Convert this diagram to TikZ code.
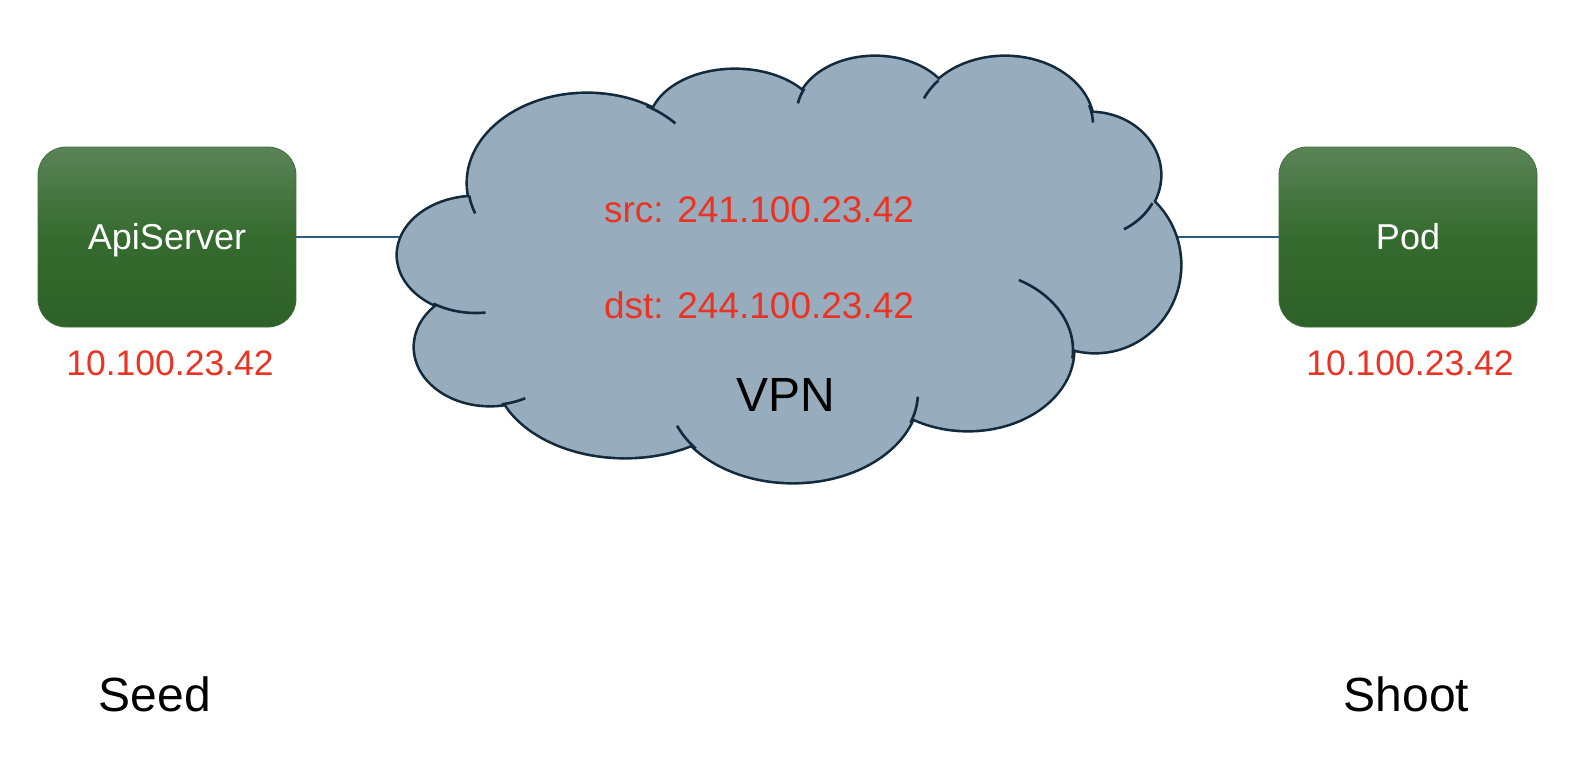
\documentclass[tikz,border=0pt]{standalone}
\usepackage{fontspec}
\setmainfont{Liberation Sans}
\definecolor{cloudfill}{HTML}{97ADBD}
\definecolor{cloudedge}{HTML}{132A3C}
\definecolor{linkblue}{HTML}{2B5C83}
\definecolor{ipred}{HTML}{EA3323}
\definecolor{boxtop}{HTML}{5A8357}
\definecolor{boxmid}{HTML}{366B2F}
\definecolor{boxbot}{HTML}{2E6127}
\definecolor{boxedge}{HTML}{3E6E39}
\newcommand\fsz[1]{\fontsize{#1}{#1}\selectfont}
\tikzset{
  box/.style={draw=boxedge, line width=0.8pt, rounded corners=28pt,
    minimum width=258pt, minimum height=180pt,
    top color=boxtop, bottom color=boxbot, middle color=boxmid,
    text=white, font=\fsz{36}, text height=24pt, text depth=0pt, inner sep=0pt},
  ip/.style={text=ipred, font=\fsz{35.5}, anchor=base, inner sep=0pt},
  pkt/.style={text=ipred, font=\fsz{37}, anchor=base, inner sep=0pt},
  big/.style={font=\fsz{48}, anchor=base, inner sep=0pt},
  link/.style={draw=linkblue, line width=2.6pt},
  cloudline/.style={draw=cloudedge, line width=2.6pt},
  cloudouter/.style={draw=cloudedge, line width=5.2pt},
}
\newcommand\cloudtick[6]{\draw[cloudline] plot[domain=#5:#6, samples=24, variable=\t] ({#1+#3*cos(\t)},{#2+#4*sin(\t)});}
\begin{document}
\begin{tikzpicture}[x=1pt, y=-1pt]
\useasboundingbox (0,0) rectangle (1580,766);
\fill[white] (0,0) rectangle (1580,766);
% boxes
\node[box] (api) at (167,237) {ApiServer};
\node[box] (pod) at (1408,237) {Pod};
\coordinate (cloudW) at (399,237);
\coordinate (cloudE) at (1178,237);
\draw[link] (api.east) -- (cloudW);
\draw[link] (cloudE) -- (pod.west);
% cloud
\def\lobelist{476/255/78/58, 587/183/119/89, 735/125/85/55, 875/112/78/55,
  1005/125/88/68, 1090/175/70/62, 1095/265/85/87, 968/350/105/80,
  793/392/125/90, 625/369/130/88, 490/347/75/58}
\draw[cloudouter] \foreach \cx/\cy/\rx/\ry in \lobelist {(\cx,\cy) ellipse [x radius=\rx pt, y radius=\ry pt]};
\fill[cloudfill] \foreach \cx/\cy/\rx/\ry in \lobelist {(\cx,\cy) ellipse [x radius=\rx pt, y radius=\ry pt]};
\fill[cloudfill] (476,255) -- (587,183) -- (735,125) -- (875,112) -- (1005,125) -- (1090,175)
  -- (1095,265) -- (968,350) -- (793,392) -- (625,369) -- (490,347) -- cycle;
\cloudtick{587}{183}{119}{89}{172}{160}
\cloudtick{587}{183}{119}{89}{300}{318}
\cloudtick{875}{112}{78}{55}{205}{189}
\cloudtick{1005}{125}{88}{68}{221}{203}
\cloudtick{1005}{125}{88}{68}{343}{358}
\cloudtick{1090}{175}{70}{62}{27}{61}
\cloudtick{968}{350}{105}{80}{6}{-61}
\cloudtick{793}{392}{125}{90}{20}{3}
\cloudtick{793}{392}{125}{90}{141}{158}
\cloudtick{490}{347}{75}{58}{81}{62}
\cloudtick{476}{255}{78}{58}{123}{83}
% texts
\node[ip] (apiip) at (170,375) {10.100.23.42};
\node[ip] (podip) at (1410,375) {10.100.23.42};
\node[pkt] (src) at (759,222) {src: 241.100.23.42};
\node[pkt] (dst) at (759,318) {dst: 244.100.23.42};
\node[big] (vpn) at (785.5,411.5) {VPN};
\node[big] (seed) at (155,711) {Seed};
\node[big] (shoot) at (1406.5,711) {Shoot};
\end{tikzpicture}
\end{document}
